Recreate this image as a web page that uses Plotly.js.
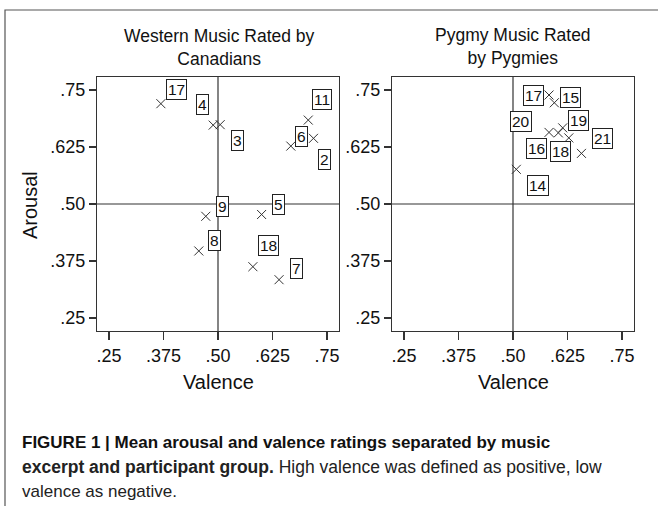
<!DOCTYPE html>
<html>
<head>
<meta charset="utf-8">
<script src="https://cdn.plot.ly/plotly-3.0.1.min.js"></script>
<style>
  html, body { margin: 0; padding: 0; background: #fff; }
  #chart { width: 658px; height: 506px; }
</style>
</head>
<body>
<div id="chart"></div>
<script>
// ---- Data ----
const westValence = [0.369, 0.489, 0.505, 0.707, 0.667, 0.719, 0.472, 0.600, 0.456, 0.580, 0.640];
const westArousal = [0.720, 0.673, 0.674, 0.684, 0.627, 0.644, 0.473, 0.477, 0.397, 0.3625, 0.334];
const westLabels  = ['17', '4', '3', '11', '6', '2', '9', '5', '8', '18', '7'];

const pygValence = [0.5826, 0.5948, 0.5826, 0.604, 0.614, 0.628, 0.657, 0.5076];
const pygArousal = [0.739, 0.722, 0.657, 0.656, 0.667, 0.645, 0.611, 0.576];
const pygLabels  = ['17', '15', '20', '16', '19', '18', '21', '14'];

const tickVals = [0.25, 0.375, 0.5, 0.625, 0.75];
const tickText = ['.25', '.375', '.50', '.625', '.75'];

// label placement (pixel offsets from each marker: [right, up])
const westShift = [[16,14],[-11,21],[17,-16],[14,21],[11,10],[11,-21],[17,10],[17,10],[16,10],[16,21],[17,11]];
const pygShift  = [[-16,0],[16,5],[-28,11],[-22,-16],[16,7],[-8,-14],[21,15],[22,-16]];

const FONT = 'Liberation Sans, Arial, sans-serif';
const INK = '#333';

function markerTrace(x, y, xa, ya) {
  return {
    type: 'scatter', mode: 'markers', x: x, y: y, xaxis: xa, yaxis: ya,
    marker: { symbol: 'x-thin-open', size: 9, color: INK, line: { color: INK, width: 1 } },
    hoverinfo: 'x+y', showlegend: false
  };
}

function labelAnns(x, y, labels, shifts, xa, ya) {
  return labels.map((t, i) => ({
    x: x[i], y: y[i], xref: xa, yref: ya, text: t, showarrow: false,
    xshift: shifts[i][0], yshift: shifts[i][1],
    font: { family: FONT, size: 15.5, color: '#111' },
    bgcolor: '#fff', bordercolor: '#222', borderwidth: 1, borderpad: 1
  }));
}

function axisX(domain, anchor) {
  return {
    domain: domain, anchor: anchor, range: [0.2225, 0.7775],
    tickmode: 'array', tickvals: tickVals, ticktext: tickText,
    ticks: 'outside', ticklen: 8, tickwidth: 1.2, tickcolor: INK,
    showline: true, mirror: true, linecolor: INK, linewidth: 1.2,
    showgrid: false, zeroline: false,
    tickfont: { family: FONT, size: 18, color: '#111' }
  };
}
function axisY(domain, anchor) {
  return {
    domain: domain, anchor: anchor, range: [0.2215, 0.7785],
    tickmode: 'array', tickvals: tickVals, ticktext: tickText,
    ticks: 'outside', ticklen: 7, tickwidth: 1.2, tickcolor: INK,
    showline: true, mirror: true, linecolor: INK, linewidth: 1.2,
    showgrid: false, zeroline: false,
    tickfont: { family: FONT, size: 18, color: '#111' }
  };
}

const W = 658, H = 506;
const px = v => v / W;
const py = v => 1 - v / H;

const yDom = [py(331), py(77)];

const traces = [
  markerTrace(westValence, westArousal, 'x', 'y'),
  markerTrace(pygValence, pygArousal, 'x2', 'y2')
];

const refLine = (xa, ya) => ([
  { type: 'line', xref: xa, yref: ya + ' domain', x0: 0.5, x1: 0.5, y0: 0, y1: 1,
    line: { color: INK, width: 1.2 }, layer: 'below' },
  { type: 'line', xref: xa + ' domain', yref: ya, x0: 0, x1: 1, y0: 0.5, y1: 0.5,
    line: { color: INK, width: 1.2 }, layer: 'below' }
]);

const annotations = [
  ...labelAnns(westValence, westArousal, westLabels, westShift, 'x', 'y'),
  ...labelAnns(pygValence, pygArousal, pygLabels, pygShift, 'x2', 'y2'),
  { xref: 'paper', yref: 'paper', x: px(219), y: py(47), text: 'Western Music Rated by<br>Canadians',
    showarrow: false, xanchor: 'center', yanchor: 'middle',
    font: { family: FONT, size: 17.5, color: '#111' } },
  { xref: 'paper', yref: 'paper', x: px(513), y: py(46), text: 'Pygmy Music Rated<br>by Pygmies',
    showarrow: false, xanchor: 'center', yanchor: 'middle',
    font: { family: FONT, size: 17.5, color: '#111' } },
  { xref: 'paper', yref: 'paper', x: px(218), y: py(382), text: 'Valence',
    showarrow: false, xanchor: 'center', yanchor: 'middle',
    font: { family: FONT, size: 20, color: '#111' } },
  { xref: 'paper', yref: 'paper', x: px(513), y: py(382), text: 'Valence',
    showarrow: false, xanchor: 'center', yanchor: 'middle',
    font: { family: FONT, size: 20, color: '#111' } },
  { xref: 'paper', yref: 'paper', x: px(30), y: py(205), text: 'Arousal', textangle: -90,
    showarrow: false, xanchor: 'center', yanchor: 'middle',
    font: { family: FONT, size: 20, color: '#111' } },
  { xref: 'paper', yref: 'paper', x: px(20), y: py(442), xanchor: 'left', yanchor: 'middle', align: 'left',
    text: '<b>FIGURE 1 | Mean arousal and valence ratings separated by music</b>',
    showarrow: false, font: { family: FONT, size: 17, color: '#111' } },
  { xref: 'paper', yref: 'paper', x: px(20), y: py(467), xanchor: 'left', yanchor: 'middle', align: 'left',
    text: '<b>excerpt and participant group.</b> High valence was defined as positive, low',
    showarrow: false, font: { family: FONT, size: 17.5, color: '#222' } },
  { xref: 'paper', yref: 'paper', x: px(20), y: py(491), xanchor: 'left', yanchor: 'middle', align: 'left',
    text: 'valence as negative.',
    showarrow: false, font: { family: FONT, size: 17, color: '#222' } }
];

const shapes = [
  ...refLine('x', 'y'),
  ...refLine('x2', 'y2'),
  { type: 'rect', xref: 'paper', yref: 'paper', x0: px(5), x1: 1.1, y0: -0.1, y1: py(10),
    line: { color: '#555', width: 1.2 }, fillcolor: 'rgba(0,0,0,0)' }
];

const layout = {
  width: W, height: H,
  margin: { l: 0, r: 0, t: 0, b: 0 },
  paper_bgcolor: '#fff', plot_bgcolor: '#fff',
  showlegend: false,
  xaxis: axisX([px(97), px(339)], 'y'),
  yaxis: axisY(yDom, 'x'),
  xaxis2: axisX([px(392), px(634)], 'y2'),
  yaxis2: axisY(yDom, 'x2'),
  shapes: shapes,
  annotations: annotations
};

Plotly.newPlot('chart', traces, layout, { displayModeBar: false, staticPlot: true });
</script>
</body>
</html>
